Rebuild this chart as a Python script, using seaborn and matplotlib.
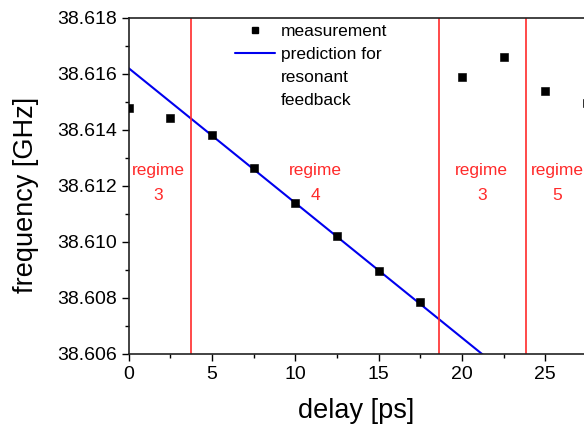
import numpy as np
import pandas as pd
import matplotlib
matplotlib.use('Agg')
import matplotlib.pyplot as plt
from matplotlib.lines import Line2D
from matplotlib.ticker import MultipleLocator, FormatStrFormatter, FixedLocator
import seaborn as sns

# measured data
delay = [0, 2.5, 5, 7.5, 10, 12.5, 15, 17.5, 20, 22.5, 25, 27.5]
freq = [38.61478, 38.61440, 38.61380, 38.61263, 38.61139, 38.61019,
        38.60895, 38.60785, 38.61588, 38.61659, 38.61538, 38.61496]

# prediction line endpoints
pred_delay = [0, 30]
pred_freq = [38.61620, 38.60177]

# regime boundaries and labels
boundaries = [3.74, 18.64, 23.83]
regime_x = [1.8, 11.2, 21.2, 25.75]
regime_names = ['regime\n3', 'regime\n4', 'regime\n3', 'regime\n5']

df = pd.DataFrame({'delay': delay, 'freq': freq})
pred = pd.DataFrame({'delay': pred_delay, 'freq': pred_freq})

sns.set_style('ticks', {'text.color': 'black', 'axes.labelcolor': 'black',
                        'xtick.color': 'black', 'ytick.color': 'black',
                        'axes.edgecolor': 'black'})
plt.rcParams['font.family'] = ['Liberation Sans', 'DejaVu Sans']

fig = plt.figure(figsize=(5.84, 4.29), dpi=100)
ax = fig.add_axes([128.5 / 584, 0.175, 500 / 584, 0.784])

sns.lineplot(x='delay', y='freq', data=pred, ax=ax, color='#0000ee', lw=1.5)
sns.scatterplot(x='delay', y='freq', data=df, ax=ax, marker='s', color='black',
                s=28, edgecolor='black', zorder=3)

for b in boundaries:
    ax.axvline(b, color='#ff2a2a', lw=1.2)
for rx, name in zip(regime_x, regime_names):
    ax.text(rx, 38.6121, name, color='#ff2a2a', fontsize=12.5, ha='center',
            va='center', linespacing=1.8)

ax.set_xlim(0, 30)
ax.set_ylim(38.606, 38.618)
ax.xaxis.set_major_locator(FixedLocator([0, 5, 10, 15, 20, 25]))
ax.xaxis.set_minor_locator(MultipleLocator(2.5))
ax.yaxis.set_major_locator(MultipleLocator(0.002))
ax.yaxis.set_minor_locator(MultipleLocator(0.001))
ax.yaxis.set_major_formatter(FormatStrFormatter('%.3f'))
ax.tick_params(which='major', length=5, width=1, labelsize=14, direction='out')
ax.tick_params(which='minor', length=3, width=1, direction='out')
for s in ax.spines.values():
    s.set_linewidth(1.2)
    s.set_color('#222222')

ax.set_xlabel('delay [ps]', fontsize=19.5)
ax.set_ylabel('frequency [GHz]', fontsize=19.5)
ax.xaxis.set_label_coords(0.456, -0.132)
ax.yaxis.set_label_coords(-0.178, 0.472)

# legend, second label wrapped over extra rows
blank = Line2D([], [], color='none')
handles = [Line2D([], [], marker='s', color='black', ls='none', markersize=5),
           Line2D([], [], color='#0000ee', lw=1.5), blank, blank]
labels = ['measurement', 'prediction for', 'resonant', 'feedback']
ax.legend(handles, labels, frameon=False, fontsize=12.5,
          loc='upper left', bbox_to_anchor=(0.213, 0.98), handlelength=2.3,
          handletextpad=0.35, labelspacing=0.45, borderaxespad=0, borderpad=0)

fig.savefig('out.png', dpi=100)
